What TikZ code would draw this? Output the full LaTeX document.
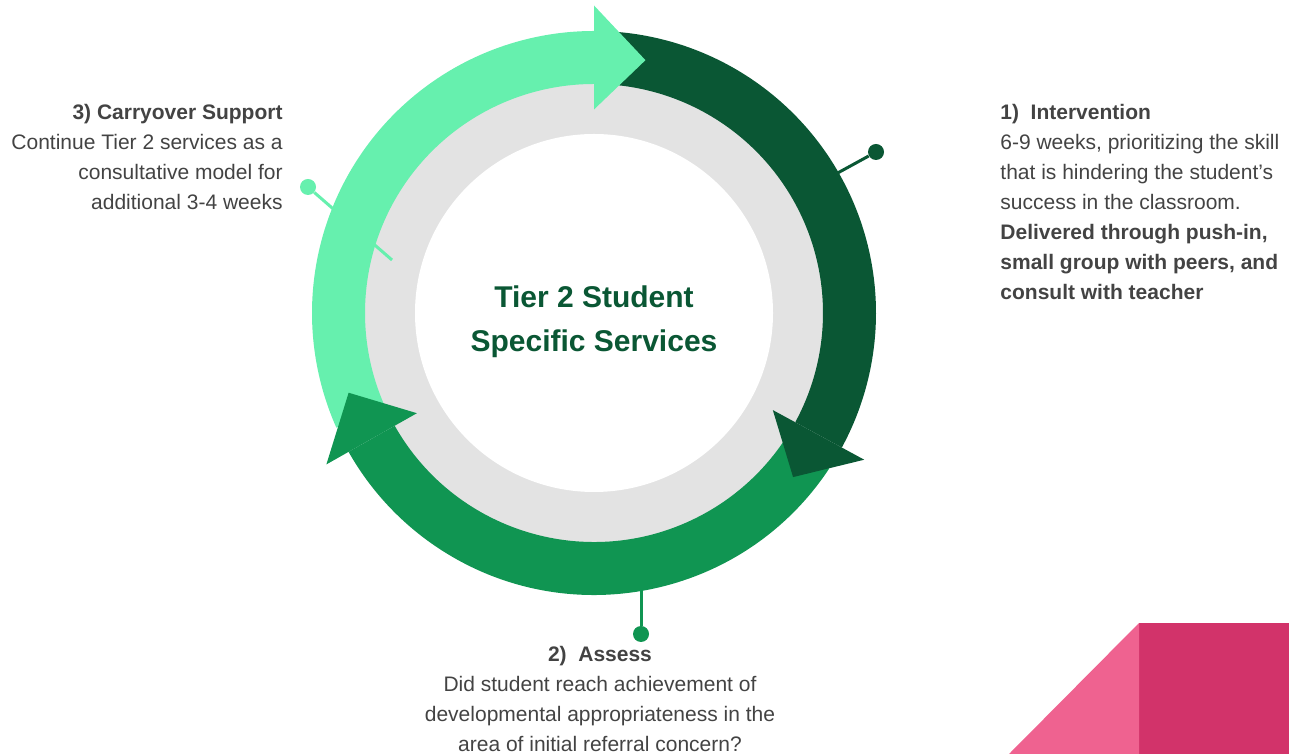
\documentclass[tikz,border=0pt]{standalone}
\usepackage{fontspec}
\setmainfont{Liberation Sans}
\usetikzlibrary{positioning,calc}
\definecolor{tsLight}{RGB}{102,240,174}
\definecolor{tsDark}{RGB}{10,87,52}
\definecolor{tsMid}{RGB}{16,149,82}
\definecolor{tsGray}{RGB}{227,227,227}
\definecolor{tsText}{RGB}{67,67,67}
\definecolor{tsPink}{RGB}{239,98,144}
\definecolor{tsRose}{RGB}{210,51,106}
\tikzset{
    base/.style={font=\fontsize{10.5}{15}\selectfont, text=tsText, inner sep=0pt},
    blurb/.style={base, align=left},
    title/.style={font=\fontsize{15}{22}\selectfont\bfseries, text=tsDark, align=center, inner sep=0pt},
    pin/.style={circle, inner sep=0pt, minimum size=8pt},
    stem/.style={line width=1.5pt}
}

\begin{document}
\begin{tikzpicture}[x=0.5pt, y=0.5pt]
  \useasboundingbox (0,0) rectangle (1289,754);

  % Corner decoration
  \fill[tsRose] (1139,0) rectangle (1289,131);
  \fill[tsPink] (1009,0) -- (1139,0) -- (1139,131) -- cycle;

  % Centre disk
  \coordinate (c) at (594,441);
  \fill[tsGray] (c) circle[radius=232];
  \fill[white] (c) circle[radius=179];
  \node[title] (hub) at ([yshift=-4.5pt]c) {Tier 2 Student\\Specific Services};

  % Texts
  \node[blurb, anchor=north west] (interv) at (1000,650)
    {\textbf{1)\ \ Intervention}\\
     6-9 weeks, prioritizing the skill\\
     that is hindering the student’s\\
     success in the classroom.\\
     \textbf{Delivered through push-in,}\\
     \textbf{small group with peers, and}\\
     \textbf{consult with teacher}};
  \node[blurb, align=right, anchor=north east] (carry) at (283,650)
    {\textbf{3) Carryover Support}\\
     Continue Tier 2 services as a\\
     consultative model for\\
     additional 3-4 weeks};
  \node[blurb, align=center, anchor=north] (assess) at (600,108)
    {\textbf{2)\ \ Assess}\\
     Did student reach achievement of\\
     developmental appropriateness in the\\
     area of initial referral concern?};

  % Pins and stems
  \node[pin, fill=tsDark] (pinA) at (876,602) {};
  \node[pin, fill=tsMid] (pinB) at (641,120) {};
  \node[pin, fill=tsLight] (pinC) at (308,567) {};
  \coordinate (rimA) at ($(c)+(30:255)$);
  \coordinate (rimB) at (641,200);
  \coordinate (rimC) at (392,494);
  \draw[stem, tsDark] (rimA) -- (pinA);
  \draw[stem, tsMid] (rimB) -- (pinB);
  \draw[stem, tsLight] (rimC) -- (pinC);

  % Arrow ring
  \begin{scope}[shift={(c)}]
    \fill[tsLight] (204:282) arc[start angle=204, end angle=90, radius=282]
      -- (90:229) arc[start angle=90, end angle=204, radius=229] -- cycle;
    \fill[tsDark] (85:282) arc[start angle=85, end angle=-28.5, radius=282]
      -- (-28.5:229) arc[start angle=-28.5, end angle=85, radius=229] -- cycle;
    \fill[tsMid] (-33.5:282) arc[start angle=-33.5, end angle=-150.5, radius=282]
      -- (-150.5:229) arc[start angle=-150.5, end angle=-33.5, radius=229] -- cycle;
    \fill[tsLight] (90:203.5) -- (90:307.5) -- (78.5:258) -- cycle;
    \fill[tsDark] (-28.5:203.5) -- (-28.5:307.5) -- (-39.5:258) -- cycle;
    \fill[tsMid] (209.5:203.5) -- (209.5:307.5) -- (198:258) -- cycle;
  \end{scope}
\end{tikzpicture}
\end{document}
